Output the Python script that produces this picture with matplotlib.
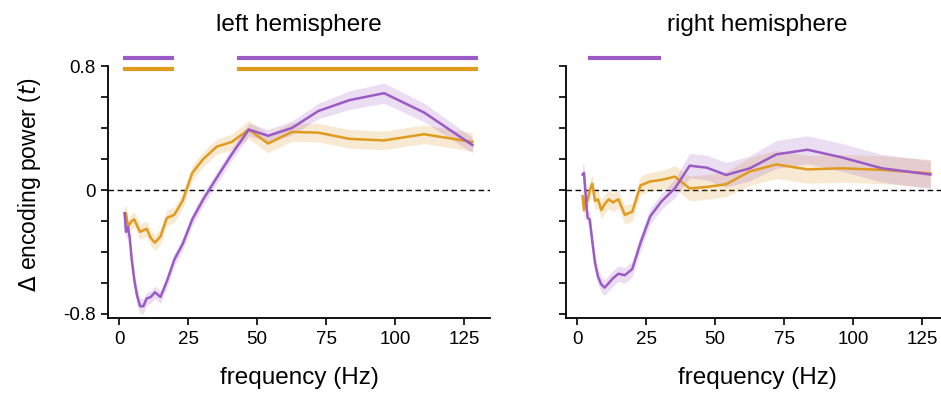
import numpy as np
import matplotlib.pyplot as plt

plt.rcParams['font.family'] = ['Liberation Sans', 'DejaVu Sans']

# frequency grid (Hz)
freqs = [2, 2.5, 3.2, 3.8, 4.6, 5.5, 6.5, 7.6, 8.8, 10, 11.5, 13, 15, 17.3, 20,
         23, 26.5, 30.5, 35.4, 40.8, 47, 54, 62.6, 72.2, 83.5, 96, 110.5, 128]

# left hemisphere
left_purple = [-0.15, -0.27, -0.24, -0.30, -0.45, -0.58, -0.68, -0.75, -0.75, -0.70,
               -0.69, -0.66, -0.69, -0.59, -0.45, -0.35, -0.19, -0.06, 0.08, 0.23,
               0.39, 0.35, 0.40, 0.51, 0.58, 0.625, 0.50, 0.29]
left_purple_err = [0.05, 0.05, 0.05, 0.05, 0.05, 0.05, 0.05, 0.05, 0.05, 0.04,
                   0.04, 0.04, 0.04, 0.04, 0.04, 0.04, 0.04, 0.04, 0.04, 0.04,
                   0.04, 0.04, 0.045, 0.05, 0.06, 0.065, 0.06, 0.05]
left_orange = [-0.15, -0.15, -0.24, -0.22, -0.20, -0.19, -0.23, -0.27, -0.26, -0.25,
               -0.31, -0.34, -0.30, -0.18, -0.16, -0.07, 0.11, 0.20, 0.28, 0.31,
               0.39, 0.30, 0.375, 0.37, 0.33, 0.32, 0.36, 0.31]
left_orange_err = [0.05, 0.05, 0.05, 0.05, 0.05, 0.05, 0.05, 0.05, 0.05, 0.05,
                   0.05, 0.05, 0.05, 0.05, 0.05, 0.05, 0.05, 0.05, 0.05, 0.05,
                   0.06, 0.06, 0.06, 0.06, 0.06, 0.06, 0.06, 0.06]

# right hemisphere
right_purple = [0.10, 0.11, -0.05, -0.18, -0.19, -0.33, -0.47, -0.56, -0.61, -0.63,
                -0.60, -0.57, -0.54, -0.55, -0.51, -0.34, -0.17, -0.075, 0.01, 0.157,
                0.144, 0.097, 0.14, 0.23, 0.26, 0.21, 0.14, 0.10]
right_purple_err = [0.06, 0.06, 0.06, 0.05, 0.05, 0.05, 0.05, 0.05, 0.05, 0.05,
                    0.05, 0.05, 0.05, 0.05, 0.05, 0.05, 0.05, 0.05, 0.06, 0.08,
                    0.08, 0.08, 0.08, 0.09, 0.09, 0.09, 0.09, 0.09]
right_orange = [-0.04, -0.13, -0.04, -0.07, 0.00, 0.04, -0.07, -0.06, -0.13, -0.09,
                -0.06, -0.08, -0.06, -0.16, -0.14, 0.03, 0.055, 0.065, 0.086, 0.01,
                0.02, 0.037, 0.12, 0.165, 0.133, 0.14, 0.13, 0.107]
right_orange_err = [0.07, 0.07, 0.07, 0.06, 0.06, 0.06, 0.06, 0.06, 0.06, 0.06,
                    0.06, 0.06, 0.06, 0.06, 0.06, 0.06, 0.06, 0.06, 0.07, 0.08,
                    0.08, 0.08, 0.09, 0.09, 0.09, 0.09, 0.09, 0.09]

# significance clusters (start Hz, end Hz)
left_sig_purple = [(1.3, 19.9), (42.6, 130.2)]
left_sig_orange = [(1.3, 19.9), (42.6, 130.2)]
right_sig_purple = [(3.9, 30.4)]
right_sig_orange = []

PURPLE = '#9b5ac6'
ORANGE = '#e09a1e'

fig = plt.figure(figsize=(9.41, 3.98), dpi=100, facecolor='w')
ax_l = fig.add_axes([0.1148, 0.201, 0.406, 0.672])
ax_r = fig.add_axes([0.6015, 0.201, 0.406, 0.672])

panels = [
    (ax_l, 'left hemisphere', left_purple, left_purple_err, left_orange, left_orange_err,
     left_sig_purple, left_sig_orange),
    (ax_r, 'right hemisphere', right_purple, right_purple_err, right_orange, right_orange_err,
     right_sig_purple, right_sig_orange),
]

f = np.array(freqs)
ymin, ymax = -0.826, 0.9
for ax, title, yp, ep, yo, eo, sp, so in panels:
    yp, ep, yo, eo = map(np.array, (yp, ep, yo, eo))
    ax.axhline(0, color='k', lw=1, ls=(0, (4, 2.5)), zorder=1)
    ax.fill_between(f, yo - eo, yo + eo, color=ORANGE, alpha=0.2, lw=0, zorder=2)
    ax.fill_between(f, yp - ep, yp + ep, color=PURPLE, alpha=0.2, lw=0, zorder=2)
    ax.plot(f, yo, color=ORANGE, lw=1.8, zorder=3)
    ax.plot(f, yp, color=PURPLE, lw=1.8, zorder=4)
    for a, b in sp:
        ax.plot([a, b], [0.855, 0.855], color=PURPLE, lw=3, solid_capstyle='butt')
    for a, b in so:
        ax.plot([a, b], [0.78, 0.78], color=ORANGE, lw=3, solid_capstyle='butt')

    ax.set_xlim(-4, 134.4)
    ax.set_ylim(ymin, ymax)
    ax.set_xticks([0, 25, 50, 75, 100, 125])
    ax.set_yticks(np.round(np.arange(-0.8, 0.81, 0.2), 1))
    ax.spines['top'].set_visible(False)
    ax.spines['right'].set_visible(False)
    ax.spines['left'].set_bounds(ymin, 0.8)
    ax.spines['left'].set_linewidth(1.3)
    ax.spines['bottom'].set_linewidth(1.3)
    ax.tick_params(direction='out', length=5, width=1.2, labelsize=13.5, pad=4)
    ax.set_title(title, fontsize=17.5, pad=14)
    ax.set_xlabel('frequency (Hz)', fontsize=17.5, labelpad=14)

ax_l.set_yticklabels(['-0.8', '', '', '', '0', '', '', '', '0.8'])
ax_r.set_yticklabels([])
ax_l.set_ylabel(r'$\Delta$ encoding power ($t$)', fontsize=16.5, labelpad=14)

fig.savefig('out.png', dpi=100)
